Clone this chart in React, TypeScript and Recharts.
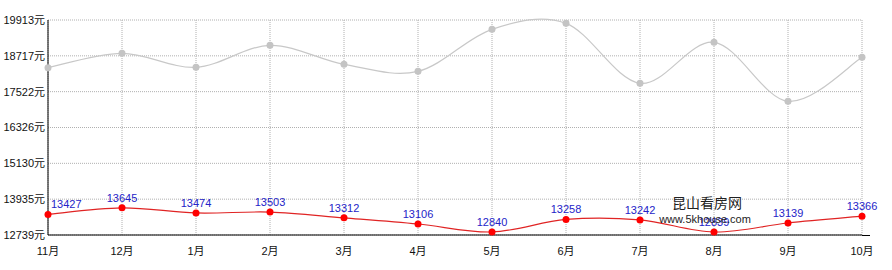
import React from 'react';
import { LineChart, Line, XAxis, YAxis, CartesianGrid, LabelList } from 'recharts';

const months = ['11月', '12月', '1月', '2月', '3月', '4月', '5月', '6月', '7月', '8月', '9月', '10月'];
const grayValues = [18322, 18801, 18335, 19068, 18434, 18200, 19602, 19802, 17800, 19168, 17199, 18667];
const redValues = [13427, 13645, 13474, 13503, 13312, 13106, 12840, 13258, 13242, 12839, 13139, 13366];
const yTicks = [12739, 13935, 15130, 16326, 17522, 18717, 19913];

const data = months.map((m, i) => ({ month: m, gray: grayValues[i], red: redValues[i] }));

const FONT = 'Arial, "Liberation Sans", "Noto Sans CJK SC", sans-serif';

// Catmull-Rom style cardinal curve (tension 0) as a d3-compatible curve factory
const catmullRom = (context: any) => {
  let pts: [number, number][] = [];
  return {
    areaStart() {},
    areaEnd() {},
    lineStart() {
      pts = [];
    },
    point(x: number, y: number) {
      pts.push([+x, +y]);
    },
    lineEnd() {
      const n = pts.length;
      if (n === 0) return;
      context.moveTo(pts[0][0], pts[0][1]);
      if (n === 1) return;
      const tan = (i: number): [number, number] => {
        const a = pts[Math.max(0, i - 1)];
        const b = pts[Math.min(n - 1, i + 1)];
        return [(b[0] - a[0]) / 2, (b[1] - a[1]) / 2];
      };
      for (let i = 0; i < n - 1; i++) {
        const p0 = pts[i];
        const p1 = pts[i + 1];
        const m0 = tan(i);
        const m1 = tan(i + 1);
        context.bezierCurveTo(
          p0[0] + m0[0] / 3,
          p0[1] + m0[1] / 3,
          p1[0] - m1[0] / 3,
          p1[1] - m1[1] / 3,
          p1[0],
          p1[1]
        );
      }
    },
  };
};

const RedLabel = (props: any) => {
  const { x, y, value, index } = props;
  const first = index === 0;
  return (
    <text
      x={first ? x + 3 : x}
      y={y - 6}
      textAnchor={first ? 'start' : 'middle'}
      fill="#2424c8"
      fontSize={11}
      fontFamily={FONT}
    >
      {value}
    </text>
  );
};

export default function App() {
  return (
    <div style={{ position: 'absolute', left: 0, top: 0, width: 892, height: 270, background: '#fff' }}>
      <LineChart width={892} height={270} data={data} margin={{ top: 20, right: 30, bottom: 5, left: 0 }}>
        <CartesianGrid stroke="#b0b0b0" strokeDasharray="1 1" horizontalValues={yTicks} />
        <XAxis
          dataKey="month"
          axisLine={{ stroke: '#000', strokeWidth: 1 }}
          tickLine={false}
          interval={0}
          height={30}
          tick={{ fill: '#111', fontSize: 11, fontFamily: FONT }}
          tickMargin={6}
        />
        <YAxis
          domain={[12739, 19913]}
          ticks={yTicks}
          width={48}
          interval={0}
          axisLine={{ stroke: '#000', strokeWidth: 1 }}
          tickLine={false}
          tickSize={0}
          tickMargin={3}
          tick={{ fill: '#111', fontSize: 11, fontFamily: FONT }}
          tickFormatter={(v: number) => `${v}元`}
        />
        <Line
          type={catmullRom as any}
          dataKey="gray"
          stroke="#c8c8c8"
          strokeWidth={1.2}
          dot={{ r: 3.5, fill: '#c4c4c4', stroke: 'none' }}
          activeDot={false}
          isAnimationActive={false}
        />
        <Line
          type={catmullRom as any}
          dataKey="red"
          stroke="#e02424"
          strokeWidth={1.2}
          dot={{ r: 3.5, fill: '#f00', stroke: 'none' }}
          activeDot={false}
          isAnimationActive={false}
        >
          <LabelList dataKey="red" content={RedLabel} />
        </Line>
      </LineChart>
      <div style={{ position: 'absolute', left: 862, top: 235, width: 8, height: 1, background: '#000' }} />
      <div style={{ position: 'absolute', left: 670, top: 195, width: 74, textAlign: 'center', fontFamily: FONT, fontSize: 14, color: '#222', lineHeight: '16px' }}>
        昆山看房网
      </div>
      <div style={{ position: 'absolute', left: 650, top: 212, width: 110, textAlign: 'center', fontFamily: FONT, fontSize: 11, color: '#222', lineHeight: '14px' }}>
        www.5khouse.com
      </div>
    </div>
  );
}
